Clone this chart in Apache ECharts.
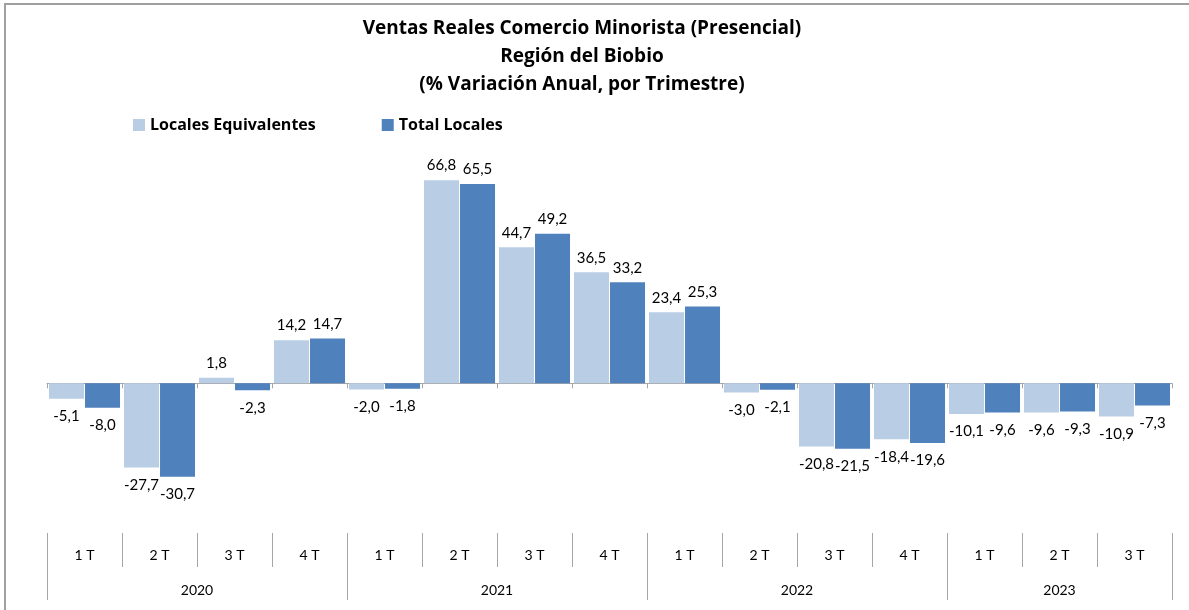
<!DOCTYPE html>
<html>
<head>
<meta charset="utf-8">
<script src="https://cdn.jsdelivr.net/npm/echarts@6/dist/echarts.min.js"></script>
<style>
  html, body { margin: 0; padding: 0; background: #fff; overflow: hidden; }
  #chart { position: absolute; left: 0; top: 0; width: 1189px; height: 610px; }
  #frame { position: absolute; left: 4px; top: 3px; width: 1400px; height: 800px;
           border: 2px solid #a0a0a0; pointer-events: none; }
</style>
</head>
<body>
<div id="chart"></div>
<div id="frame"></div>
<script>
// quarters (one category per bar pair)
const quarters = ['1 T', '2 T', '3 T', '4 T', '1 T', '2 T', '3 T', '4 T',
                  '1 T', '2 T', '3 T', '4 T', '1 T', '2 T', '3 T'];
// years and how many quarters each one spans
const years = ['2020', '2021', '2022', '2023'];
const yearQuarters = [4, 4, 4, 3];

const localesEquivalentes = [-5.1, -27.7, 1.8, 14.2, -2.0, 66.8, 44.7, 36.5,
                             23.4, -3.0, -20.8, -18.4, -10.1, -9.6, -10.9];
const totalLocales = [-8.0, -30.7, -2.3, 14.7, -1.8, 65.5, 49.2, 33.2,
                      25.3, -2.1, -21.5, -19.6, -9.6, -9.3, -7.3];

const font = 'Lato, "Open Sans", sans-serif';
const boldFont = '"Open Sans", Lato, sans-serif';

// year boundaries / centres on a 0..n value scale laid over the categories
let yearEdges = [0];
let yearCentres = [];
yearQuarters.forEach(n => {
    const start = yearEdges[yearEdges.length - 1];
    yearCentres.push(start + n / 2);
    yearEdges.push(start + n);
});

const fmt = v => v.toFixed(1).replace('.', ',');

function toItems(values) {
    return values.map(v => ({
        value: v,
        label: v < 0 ? { position: 'bottom', distance: 10 } : { position: 'top', distance: 7 }
    }));
}

const chart = echarts.init(document.getElementById('chart'));

chart.setOption({
    animation: false,
    title: {
        text: 'Ventas Reales Comercio Minorista (Presencial)\nRegión del Biobio\n(% Variación Anual, por Trimestre)',
        left: 577,
        textAlign: 'center',
        top: 10,
        textStyle: { fontFamily: boldFont, fontSize: 19, fontWeight: 'bold', color: '#000', lineHeight: 28 }
    },
    legend: {
        left: 128,
        top: 112,
        itemWidth: 12,
        itemHeight: 12,
        itemGap: 66,
        icon: 'rect',
        textStyle: { fontFamily: boldFont, fontSize: 16, fontWeight: 'bold', color: '#000' },
        data: ['Locales Equivalentes', 'Total Locales']
    },
    grid: { left: 47, right: 17, top: 140, height: 365 },
    xAxis: [
        {
            type: 'category',
            data: quarters,
            axisLine: { onZero: true, lineStyle: { color: '#a6a6a6', width: 1 } },
            axisTick: { show: true, alignWithLabel: false, length: 5, lineStyle: { color: '#a6a6a6' } },
            axisLabel: { show: false }
        },
        {
            type: 'category',
            data: quarters,
            position: 'bottom',
            offset: 28,
            axisLine: { show: false },
            axisTick: { show: true, alignWithLabel: false, length: 34, lineStyle: { color: '#a6a6a6' } },
            axisLabel: { margin: 15, fontFamily: font, fontSize: 14, color: '#000' }
        },
        {
            type: 'value',
            min: 0,
            max: yearEdges[yearEdges.length - 1],
            position: 'bottom',
            offset: 28,
            splitLine: { show: false },
            axisLine: { show: false },
            axisTick: { show: true, customValues: yearEdges, length: 67, lineStyle: { color: '#a6a6a6' } },
            axisLabel: {
                customValues: yearCentres,
                margin: 50,
                fontFamily: font, fontSize: 14, color: '#000',
                formatter: v => years[yearCentres.indexOf(v)] || ''
            }
        }
    ],
    yAxis: {
        type: 'value',
        min: -40,
        max: 80,
        show: false,
        splitLine: { show: false }
    },
    series: [
        {
            name: 'Locales Equivalentes',
            type: 'bar',
            xAxisIndex: 0,
            data: toItems(localesEquivalentes),
            barWidth: 35,
            barGap: '3%',
            itemStyle: { color: '#b9cde5' },
            label: { show: true, fontFamily: font, fontSize: 15, color: '#000', formatter: p => fmt(p.value) }
        },
        {
            name: 'Total Locales',
            type: 'bar',
            xAxisIndex: 0,
            data: toItems(totalLocales),
            barWidth: 35,
            barGap: '3%',
            itemStyle: { color: '#4f81bd' },
            label: { show: true, fontFamily: font, fontSize: 15, color: '#000', formatter: p => fmt(p.value) }
        }
    ]
});
</script>
</body>
</html>
